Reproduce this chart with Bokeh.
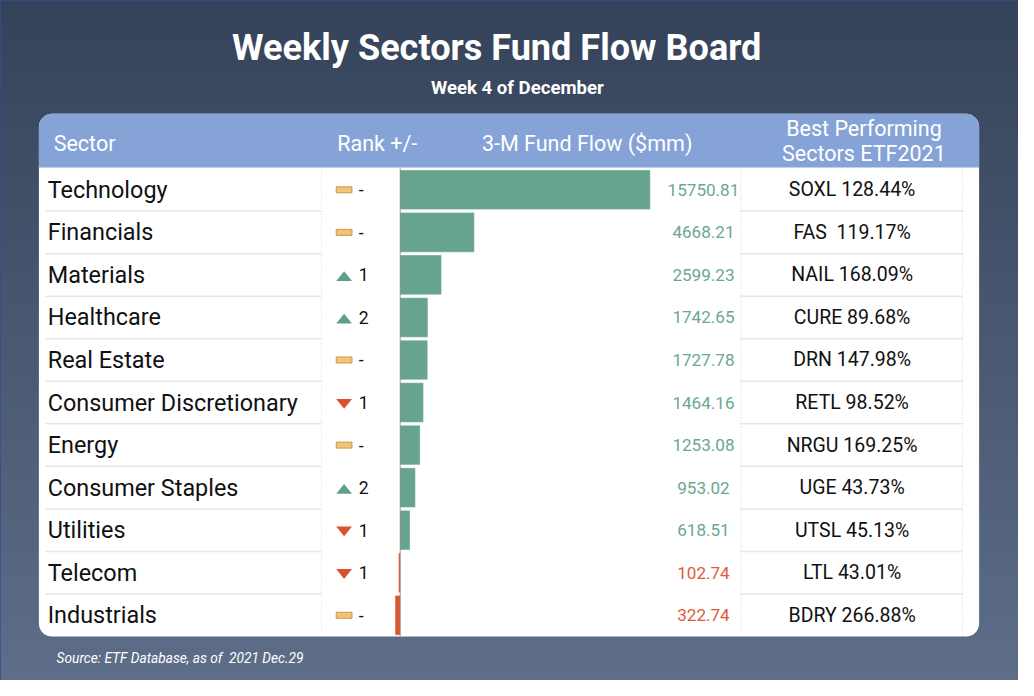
from bokeh.plotting import figure
from bokeh.models import Range1d, BoxAnnotation
from bokeh.core.properties import value
from bokeh.embed import file_html
from bokeh.resources import INLINE

# ---------------- data ----------------
title_text = "Weekly Sectors Fund Flow Board"
subtitle_text = "Week 4 of December"
source_text = "Source: ETF Database, as of\u00a0 2021 Dec.29"
header_sector = "Sector"
header_rank = "Rank +/-"
header_flow = "3-M Fund Flow ($mm)"
header_etf = ["Best Performing", "Sectors ETF2021"]

sectors = ["Technology", "Financials", "Materials", "Healthcare", "Real Estate",
           "Consumer Discretionary", "Energy", "Consumer Staples", "Utilities",
           "Telecom", "Industrials"]
fund_flow = [15750.81, 4668.21, 2599.23, 1742.65, 1727.78, 1464.16, 1253.08,
             953.02, 618.51, -102.74, -322.74]
rank_change = [0, 0, 1, 2, 0, -1, 0, 2, -1, -1, 0]
etf_ticker = ["SOXL", "FAS\u00a0", "NAIL", "CURE", "DRN", "RETL", "NRGU", "UGE",
              "UTSL", "LTL", "BDRY"]
etf_return = [128.44, 119.17, 168.09, 89.68, 147.98, 98.52, 169.25, 43.73,
              45.13, 43.01, 266.88]

# ---------------- layout ----------------
W, H = 1018, 680                 # figure size (fits the window with 8px margin)
CW, CH = 1034, 696               # design canvas units
S = min(W / CW, H / CH)          # font scale
FONT = "Roboto"


def fs(px):
    return "%.1fpx" % (px * S)


n = len(sectors)
TOP, BOT = 172, 651              # table body in canvas units
rh = (BOT - TOP) / n
ZX, MX = 406, 660                # zero line / longest bar end
ppu = (MX - ZX) / max(fund_flow)

GREEN = "#67a48e"
RED = "#dc5430"

p = figure(width=W, height=H, x_range=Range1d(0, CW), y_range=Range1d(CH, 0),
           output_backend="svg", toolbar_location=None,
           x_axis_location=None, y_axis_location=None, min_border=0)
p.xgrid.visible = False
p.ygrid.visible = False
p.outline_line_color = "#2f4f8c"
p.outline_line_width = 2
p.background_fill_color = "#48566f"
p.border_fill_color = "#48566f"

p.extra_y_ranges = {"rows": Range1d(start=(CH - TOP) / rh - 0.5, end=(0 - TOP) / rh - 0.5)}
p.extra_x_ranges = {"flow": Range1d(start=(0 - ZX) / ppu, end=(CW - ZX) / ppu)}

# background gradient
c_top = (53, 67, 90)
c_bot = (94, 109, 136)
nb = 87
bh = CH / nb
tops, bots, cols = [], [], []
for k in range(nb):
    t = k / (nb - 1)
    c = tuple(int(round(a + (b - a) * t)) for a, b in zip(c_top, c_bot))
    tops.append(k * bh)
    bots.append((k + 1) * bh + 0.6)
    cols.append("#%02x%02x%02x" % c)
p.quad(left=0, right=CW, top=tops, bottom=bots, fill_color=cols, line_color=None, level="image")

# panel and header
panel = BoxAnnotation(left=39, right=994, top=116, bottom=BOT, fill_color="white", fill_alpha=1.0,
                      line_color=None, border_radius=13, level="underlay")
header = BoxAnnotation(left=39, right=994, top=116, bottom=TOP - 1, fill_color="#85a3d7", fill_alpha=1.0,
                       line_color=None, border_radius=dict(top_left=13, top_right=13, bottom_right=0, bottom_left=0),
                       level="underlay")
p.add_layout(panel)
p.add_layout(header)

# titles
p.text(x=[504], y=[49], text=[title_text], text_align="center", text_baseline="middle",
       text_color="white", text_font=value(FONT), text_font_style="bold", text_font_size=fs(37))
p.text(x=[525], y=[90], text=[subtitle_text], text_align="center", text_baseline="middle",
       text_color="white", text_font=value(FONT), text_font_style="bold", text_font_size=fs(19))
p.text(x=[57], y=[673], text=[source_text], text_align="left", text_baseline="middle",
       text_color="white", text_font=value(FONT), text_font_style="italic", text_font_size=fs(14))

# header labels
p.text(x=[54, 342, 489], y=[146, 146, 146], text=[header_sector, header_rank, header_flow],
       text_align="left", text_baseline="middle", text_color="white",
       text_font=value(FONT), text_font_size=fs(22))
p.text(x=[877, 877], y=[131, 157], text=header_etf, text_align="center", text_baseline="middle",
       text_color="white", text_font=value(FONT), text_font_size=fs(22))

rows = list(range(n))

# row separators
sep = [i + 0.5 for i in range(n - 1)]
p.segment(x0=46, x1=326, y0=sep, y1=sep, y_range_name="rows", line_color="#e6e6e6", line_width=1.5)
p.segment(x0=752, x1=977, y0=sep, y1=sep, y_range_name="rows", line_color="#e6e6e6", line_width=1.5)
p.segment(x0=[326, 752, 977], x1=[326, 752, 977], y0=-0.5, y1=n - 0.5, y_range_name="rows",
          line_color="#d6d6d6", line_width=1, line_dash="1 2")

# bars
bar_colors = [GREEN if v >= 0 else RED for v in fund_flow]
p.hbar(y=rows, left=0, right=fund_flow, height=0.93, fill_color=bar_colors,
       line_color="white", line_alpha=0.35, line_width=1,
       x_range_name="flow", y_range_name="rows")
p.segment(x0=0, x1=0, y0=-0.5, y1=n - 0.5, x_range_name="flow", y_range_name="rows",
          line_color="#444444", line_width=1, line_dash="1 1")

# value labels
val_text = ["%.2f" % abs(v) for v in fund_flow]
val_colors = ["#6aa88f" if v >= 0 else "#e0593a" for v in fund_flow]
p.text(x=714, y=rows, text=val_text, text_color=val_colors, text_align="center", text_baseline="middle",
       y_range_name="rows", text_font=value(FONT), text_font_size=fs(17.5))

# sector names
p.text(x=48, y=rows, text=sectors, text_color="#111111", text_align="left", text_baseline="middle",
       y_range_name="rows", text_font=value(FONT), text_font_size=fs(24))

# ETF labels
etf_text = ["%s %.2f%%" % (t, r) for t, r in zip(etf_ticker, etf_return)]
p.text(x=865, y=rows, text=etf_text, text_color="#111111", text_align="center", text_baseline="middle",
       y_range_name="rows", text_font=value(FONT), text_font_size=fs(20))

# rank icons
hh = 5 / rh
dy = 0.03
up = [i for i, c in enumerate(rank_change) if c > 0]
dn = [i for i, c in enumerate(rank_change) if c < 0]
fl = [i for i, c in enumerate(rank_change) if c == 0]
p.patches(xs=[[341, 357, 349] for _ in up], ys=[[i + hh + dy, i + hh + dy, i - hh + dy] for i in up],
          fill_color="#5e9f87", line_color=None, y_range_name="rows")
p.patches(xs=[[341, 357, 349] for _ in dn], ys=[[i - hh + dy, i - hh + dy, i + hh + dy] for i in dn],
          fill_color="#d9512d", line_color=None, y_range_name="rows")
p.rect(x=349, y=fl, width=16, height=6, height_units="screen", fill_color="#f0c47c",
       line_color="#c99b4b", line_width=1, y_range_name="rows")
rank_text = ["-" if c == 0 else str(abs(c)) for c in rank_change]
p.text(x=364, y=rows, text=rank_text, text_color="#111111", text_align="left", text_baseline="middle",
       y_range_name="rows", text_font=value(FONT), text_font_size=fs(18))

open("out.html", "w").write(file_html(p, INLINE))
